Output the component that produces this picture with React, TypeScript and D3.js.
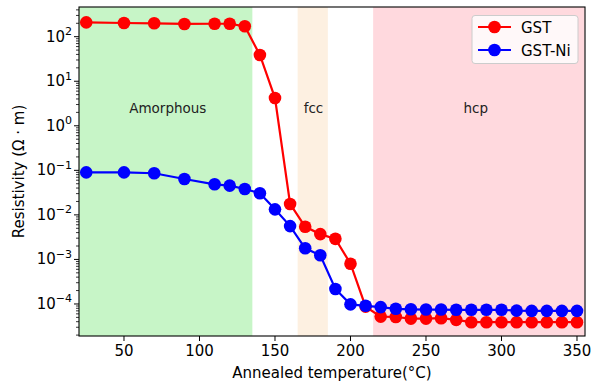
import React, { useEffect, useRef } from "react";
import * as d3 from "d3";

const temps = [25, 50, 70, 90, 110, 120, 130, 140, 150, 160, 170, 180, 190, 200, 210, 220, 230, 240, 250, 260, 270, 280, 290, 300, 310, 320, 330, 340, 350];
const gst = [210, 203, 200, 193, 195, 195, 171, 38.8, 4.2, 0.0176, 0.0054, 0.0037, 0.0029, 0.0008, 0.000087, 0.000052, 0.000051, 0.000047, 0.000047, 0.000048, 0.000044, 0.000039, 0.000039, 0.000039, 0.000039, 0.000039, 0.000039, 0.000039, 0.000039];
const gstNi = [0.09, 0.09, 0.086, 0.064, 0.0486, 0.0453, 0.038, 0.0305, 0.0133, 0.0056, 0.00178, 0.00124, 0.000217, 0.000098, 0.000091, 0.000085, 0.000078, 0.000076, 0.000075, 0.000075, 0.000074, 0.000074, 0.000074, 0.000074, 0.000071, 0.00007, 0.00007, 0.00007, 0.00007];

const phases = [
  { name: "Amorphous", from: 20, to: 135, labelX: 79, color: "#c7f5c7" },
  { name: "fcc", from: 165, to: 185, labelX: 175.5, color: "#fdf0e1" },
  { name: "hcp", from: 215, to: 355, labelX: 283, color: "#ffd9de" },
];
const xTicks = [50, 100, 150, 200, 250, 300, 350];
const yExps = [-4, -3, -2, -1, 0, 1, 2];

const App = () => {
  const svgRef = useRef<SVGSVGElement | null>(null);

  useEffect(() => {
    const svg = d3.select(svgRef.current);
    svg.selectAll("*").remove();

    const width = 595;
    const height = 383;
    const left = 79;
    const right = 585;
    const top = 7;
    const bottom = 336;
    const font = "DejaVu Sans, sans-serif";
    const fs = "15px";

    const x = d3.scaleLinear().domain([20.2, 355.3]).range([left, right]);
    const y = d3.scaleLog().domain([1.91e-5, 464]).range([bottom, top]);

    svg.attr("width", width).attr("height", height);

    // phase bands
    svg
      .selectAll("rect.band")
      .data(phases)
      .join("rect")
      .attr("class", "band")
      .attr("x", (d) => x(Math.max(d.from, 20.2)))
      .attr("y", top)
      .attr("width", (d) => x(Math.min(d.to, 355.3)) - x(Math.max(d.from, 20.2)))
      .attr("height", bottom - top)
      .attr("fill", (d) => d.color);

    svg
      .selectAll("text.phase")
      .data(phases)
      .join("text")
      .attr("class", "phase")
      .attr("x", (d) => x(d.labelX))
      .attr("y", 113)
      .attr("text-anchor", "middle")
      .style("font-family", font)
      .style("font-size", "13.5px")
      .style("fill", "#222")
      .text((d) => d.name);

    // lines
    const series = [
      { name: "GST", values: gst, color: "#ff0000" },
      { name: "GST-Ni", values: gstNi, color: "#0000ff" },
    ];
    const line = d3
      .line<number>()
      .x((_, i) => x(temps[i]))
      .y((d) => y(d));

    series.forEach((s) => {
      svg
        .append("path")
        .attr("d", line(s.values))
        .attr("fill", "none")
        .attr("stroke", s.color)
        .attr("stroke-width", 2.2);
      svg
        .append("g")
        .selectAll("circle")
        .data(s.values)
        .join("circle")
        .attr("cx", (_, i) => x(temps[i]))
        .attr("cy", (d) => y(d))
        .attr("r", 6.3)
        .attr("fill", s.color);
    });

    // frame
    svg
      .append("rect")
      .attr("x", left)
      .attr("y", top)
      .attr("width", right - left)
      .attr("height", bottom - top)
      .attr("fill", "none")
      .attr("stroke", "#000")
      .attr("stroke-width", 1.1);

    // x ticks
    const xg = svg.append("g");
    xTicks.forEach((t) => {
      xg.append("line")
        .attr("x1", x(t))
        .attr("x2", x(t))
        .attr("y1", bottom)
        .attr("y2", bottom + 5)
        .attr("stroke", "#000")
        .attr("stroke-width", 1);
      xg.append("text")
        .attr("x", x(t))
        .attr("y", bottom + 20)
        .attr("text-anchor", "middle")
        .style("font-family", font)
        .style("font-size", fs)
        .text(t);
    });

    // y ticks
    const yg = svg.append("g");
    for (let e = -5; e <= 2; e++) {
      for (let m = 2; m <= 9; m++) {
        const v = m * Math.pow(10, e);
        if (v < 1.91e-5 || v > 464) continue;
        yg.append("line")
          .attr("x1", left - 3)
          .attr("x2", left)
          .attr("y1", y(v))
          .attr("y2", y(v))
          .attr("stroke", "#000")
          .attr("stroke-width", 0.8);
      }
    }
    yExps.forEach((e) => {
      const v = Math.pow(10, e);
      yg.append("line")
        .attr("x1", left - 5)
        .attr("x2", left)
        .attr("y1", y(v))
        .attr("y2", y(v))
        .attr("stroke", "#000")
        .attr("stroke-width", 1);
      const txt = yg
        .append("text")
        .attr("x", left - 7)
        .attr("y", y(v) + 5)
        .attr("text-anchor", "end")
        .style("font-family", font)
        .style("font-size", fs);
      txt.append("tspan").text("10");
      txt
        .append("tspan")
        .attr("dy", -6.5)
        .style("font-size", "11px")
        .text(e < 0 ? `\u2212${-e}` : `${e}`);
    });

    // axis labels
    svg
      .append("text")
      .attr("x", (left + right) / 2)
      .attr("y", 378)
      .attr("text-anchor", "middle")
      .style("font-family", font)
      .style("font-size", fs)
      .text("Annealed temperature(°C)");

    svg
      .append("text")
      .attr("transform", `translate(24, ${(top + bottom) / 2}) rotate(-90)`)
      .attr("text-anchor", "middle")
      .style("font-family", font)
      .style("font-size", fs)
      .text("Resistivity (Ω · m)");

    // legend
    const lg = svg.append("g").attr("transform", "translate(472, 15.5)");
    lg.append("rect")
      .attr("width", 106)
      .attr("height", 48)
      .attr("rx", 3)
      .attr("fill", "#fff")
      .attr("fill-opacity", 0.8)
      .attr("stroke", "#ccc")
      .attr("stroke-width", 1);
    series.forEach((s, i) => {
      const cy = 11.5 + i * 23;
      lg.append("line")
        .attr("x1", 6)
        .attr("x2", 39)
        .attr("y1", cy)
        .attr("y2", cy)
        .attr("stroke", s.color)
        .attr("stroke-width", 2.2);
      lg.append("circle").attr("cx", 22.5).attr("cy", cy).attr("r", 6.3).attr("fill", s.color);
      lg.append("text")
        .attr("x", 49)
        .attr("y", cy + 5.5)
        .style("font-family", font)
        .style("font-size", fs)
        .text(s.name);
    });
  }, []);

  return (
    <div style={{ position: "absolute", left: 0, top: 0 }}>
      <svg ref={svgRef}></svg>
    </div>
  );
};

export default App;
